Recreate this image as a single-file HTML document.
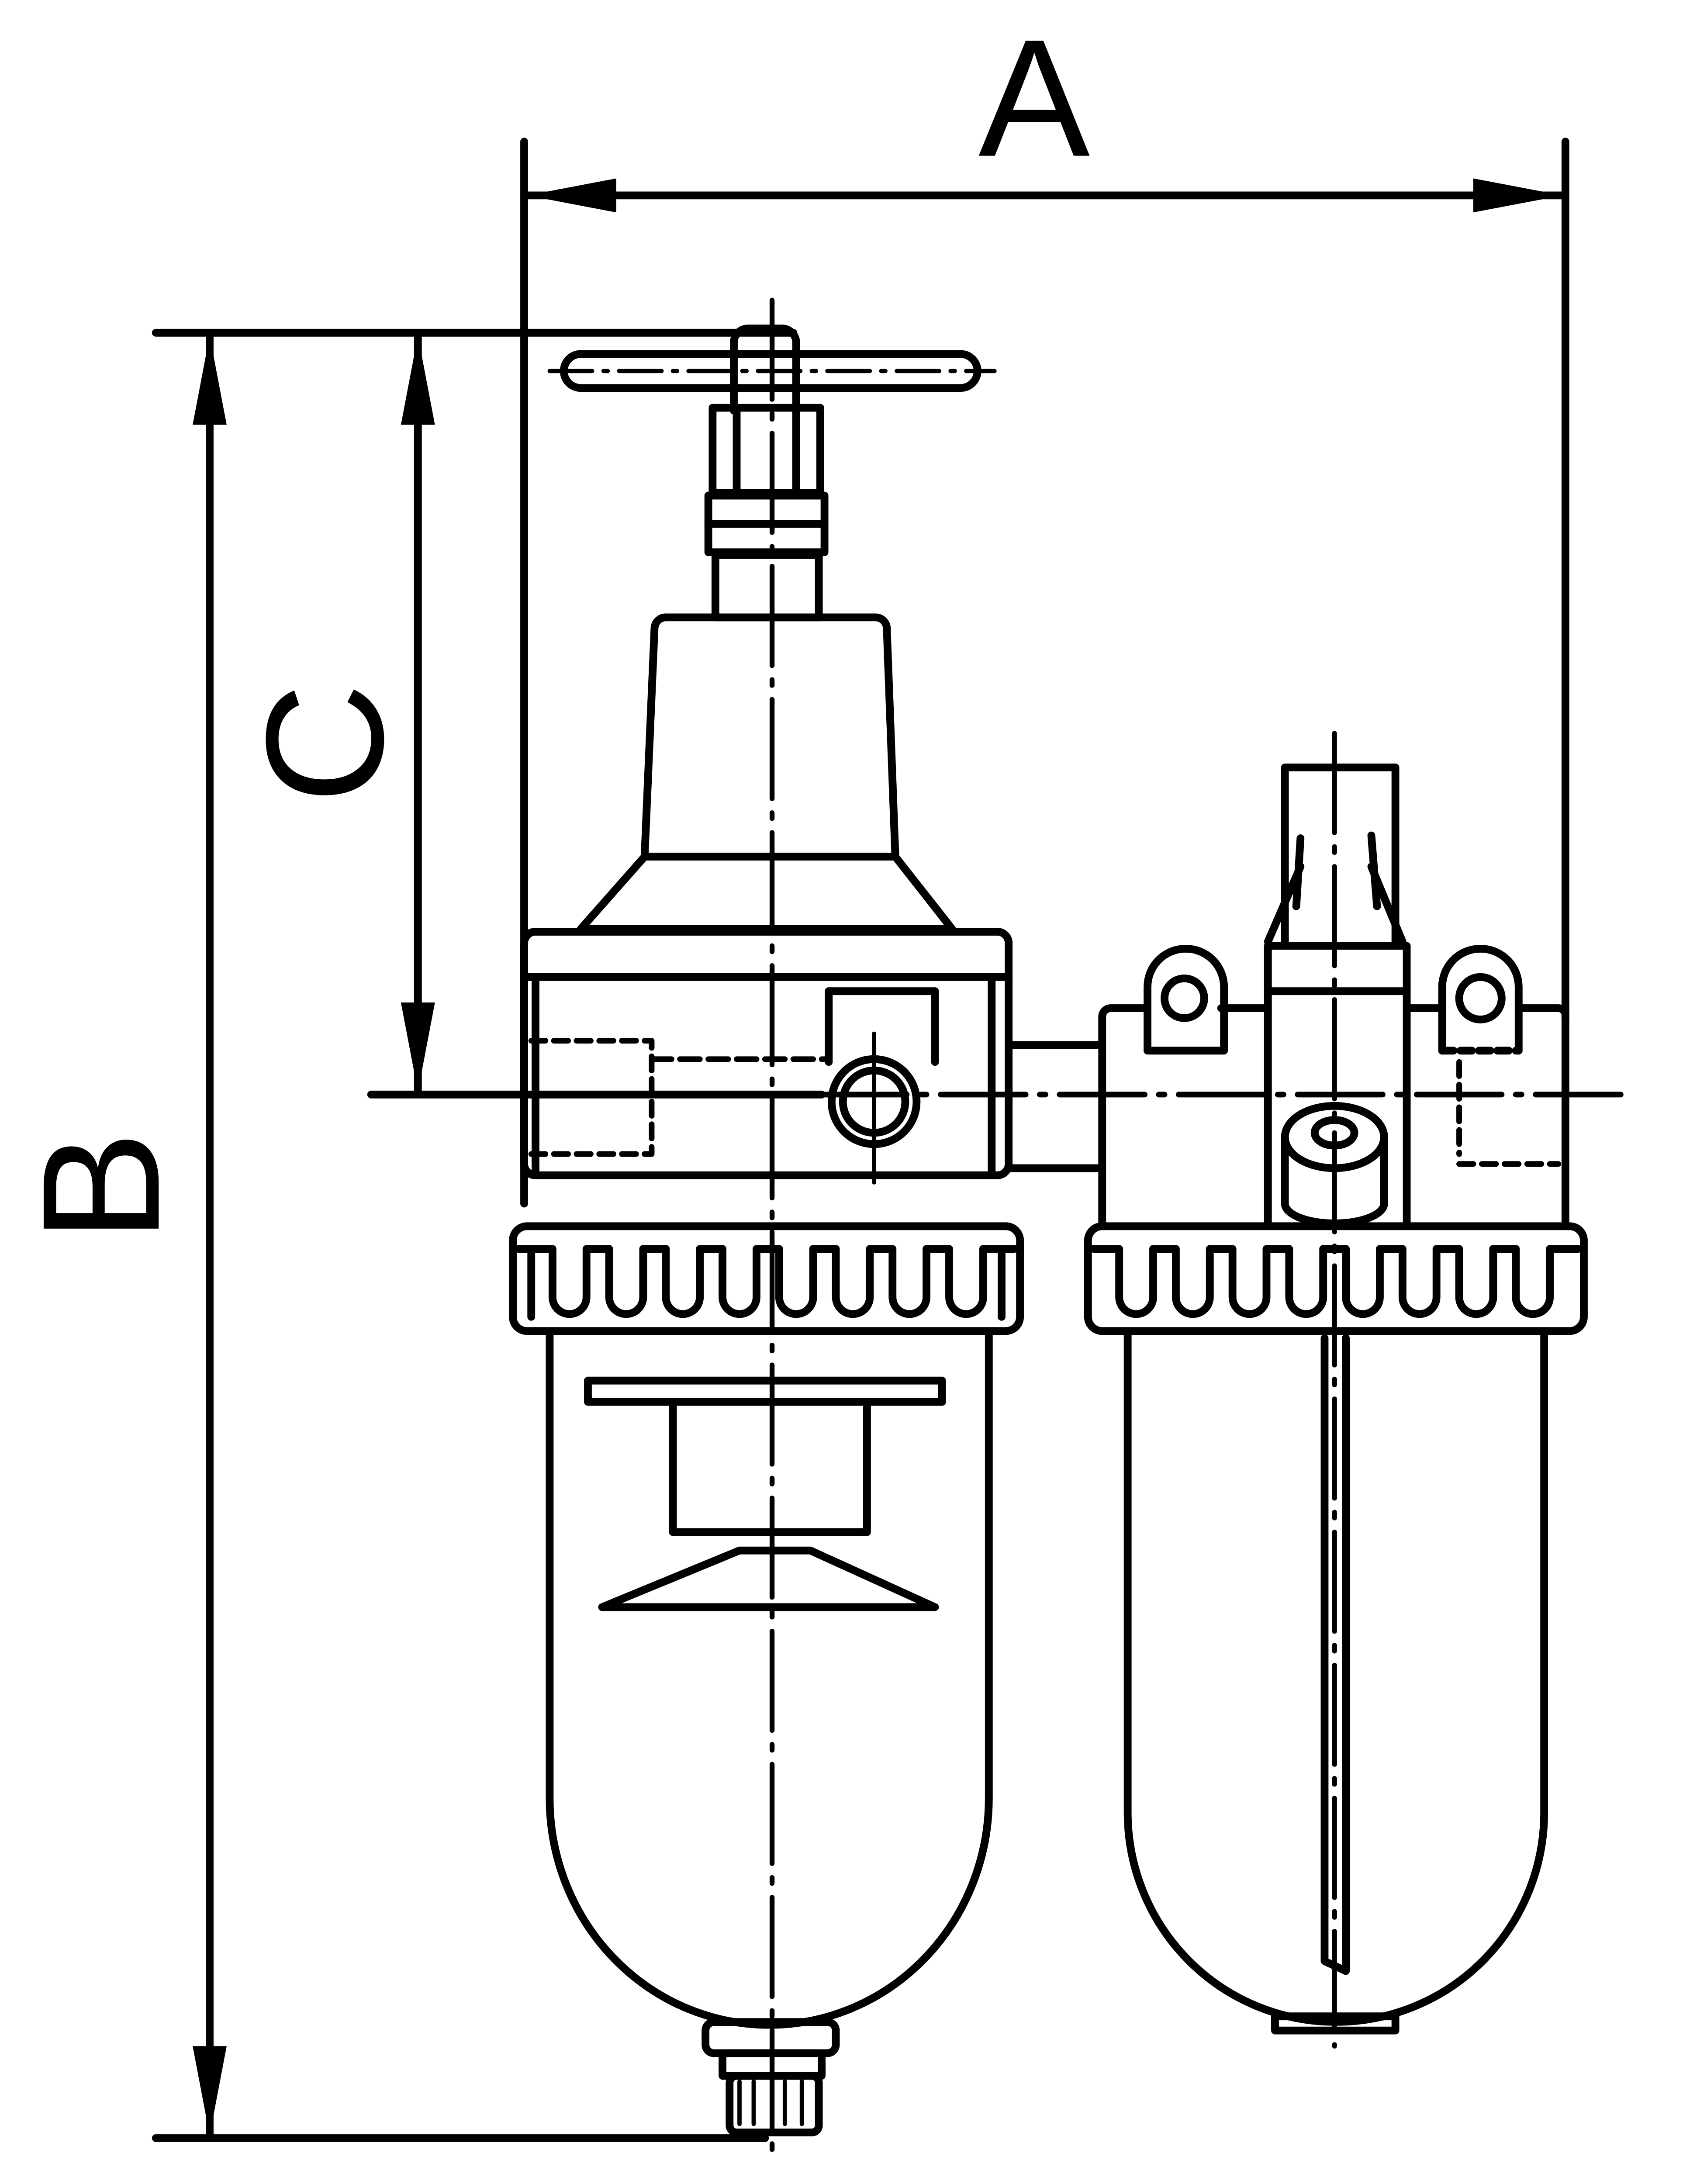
<!DOCTYPE html>
<html><head><meta charset="utf-8"><style>
html,body{margin:0;padding:0;background:#fff;width:3853px;height:5083px;overflow:hidden;position:relative}
svg{display:block;position:absolute;left:0;top:0}
</style></head><body>
<svg width="3853" height="5083" viewBox="0 0 1188 1568" preserveAspectRatio="none" xmlns="http://www.w3.org/2000/svg">
<rect width="1188" height="1568" fill="#fff"/>
<g fill="none" stroke="#000" stroke-width="5.5" stroke-linejoin="round" stroke-linecap="round">
<line x1="370" y1="100" x2="370" y2="850"/>
<line x1="1105" y1="100" x2="1105" y2="720"/>
<line x1="372" y1="138" x2="1103" y2="138"/>
<line x1="110" y1="235" x2="560" y2="235"/>
<line x1="110" y1="1510" x2="540" y2="1510"/>
<line x1="148" y1="237" x2="148" y2="1508"/>
<line x1="295" y1="237" x2="295" y2="771"/>
<line x1="262" y1="773" x2="580" y2="773"/>
<line x1="580" y1="773" x2="1145" y2="773" stroke-dasharray="60 10 4 10" stroke-width="4"/>
<line x1="545" y1="212" x2="545" y2="1525" stroke-dasharray="70 10 4 10" stroke-width="3.5"/>
<line x1="942" y1="518" x2="942" y2="1445" stroke-dasharray="70 10 4 10" stroke-width="3.5"/>

<path d="M410,250 H678 a12,12 0 0 1 0,24 H410 a12,12 0 0 1 0,-24 Z"/>
<line x1="388" y1="262" x2="702" y2="262" stroke-width="3" stroke-dasharray="30 8 3 8"/>
<path d="M518,290 V242 a10,10 0 0 1 10,-10 H552 a10,10 0 0 1 10,10 V290"/>
<rect x="503" y="288" width="76" height="60"/>
<line x1="520" y1="290" x2="520" y2="346"/>
<line x1="562" y1="290" x2="562" y2="346"/>
<path d="M500,350 H582 V390 H500 Z"/>
<line x1="500" y1="370" x2="582" y2="370"/>
<rect x="505" y="392" width="73" height="44"/>
<path d="M470,436 H618 a8,8 0 0 1 8,8 L632,605 H455 L462,444 a8,8 0 0 1 8,-8 Z"/>
<path d="M455,605 L410,656 H672 L632,605"/>
<rect x="370" y="658" width="342" height="172" rx="8"/>
<line x1="370" y1="690" x2="712" y2="690"/>
<line x1="378" y1="690" x2="378" y2="828"/>
<line x1="700" y1="690" x2="700" y2="828"/>
<path d="M375,735 H460 V815 H375" stroke-dasharray="10 6" stroke-width="4"/>
<line x1="460" y1="748" x2="585" y2="748" stroke-width="4" stroke-dasharray="14 6"/>
<path d="M585,700 H660 V750"/>
<line x1="585" y1="700" x2="585" y2="750"/>
<circle cx="617" cy="778" r="30"/>
<circle cx="617" cy="778" r="22"/>
<line x1="617" y1="730" x2="617" y2="835" stroke-width="3"/>
<path d="M712,738 H778 M712,825 H778"/>
<rect x="362" y="866" width="358" height="74" rx="10"/>
<path d="M366,882 H390 V916 a12,12 0 0 0 24,0 V882 H430 V916 a12,12 0 0 0 24,0 V882 H470 V916 a12,12 0 0 0 24,0 V882 H510 V916 a12,12 0 0 0 24,0 V882 H550 V916 a12,12 0 0 0 24,0 V882 H590 V916 a12,12 0 0 0 24,0 V882 H630 V916 a12,12 0 0 0 24,0 V882 H670 V916 a12,12 0 0 0 24,0 V882 H716"/>
<line x1="375" y1="885" x2="375" y2="930"/>
<line x1="707" y1="885" x2="707" y2="930"/>
<path d="M388,940 V1270 A155,160 0 0 0 698,1270 V940"/>
<rect x="415" y="975" width="250" height="15"/>
<rect x="475" y="990" width="137" height="92"/>
<path d="M522,1095 H572 L660,1135 H425 Z"/>
<rect x="498" y="1428" width="92" height="22" rx="6"/>
<rect x="510" y="1450" width="70" height="16"/>
<rect x="515" y="1466" width="63" height="40" rx="5"/>
<path d="M522,1470 V1500 M532,1470 V1500 M554,1470 V1500 M566,1470 V1500" stroke-width="3"/>

<path d="M907,542 H985 V665 M907,542 V665"/>
<path d="M918,612 L895,665 M968,612 L990,665"/>
<path d="M918,592 L915,640 M968,590 L972,640"/>
<path d="M895,668 H993 V865 M895,668 V865"/>
<line x1="895" y1="700" x2="993" y2="700"/>
<path d="M778,865 V718 a6,6 0 0 1 6,-6 H808 M862,712 H895 M993,712 H1018 M1072,712 H1100 a5,5 0 0 1 5,5 V865"/>
<path d="M810,742 V697 a27,27 0 0 1 54,0 V742 Z"/>
<circle cx="836" cy="705" r="14"/>
<path d="M1018,742 V697 a27,27 0 0 1 54,0 V742"/>
<circle cx="1045" cy="705" r="15"/>
<line x1="1018" y1="742" x2="1072" y2="742" stroke-dasharray="8 5"/>
<path d="M1030,750 V815 M1030,822 H1100" stroke-dasharray="10 6" stroke-width="4"/>
<ellipse cx="942" cy="803" rx="35" ry="22"/>
<ellipse cx="942" cy="800" rx="14" ry="9"/>
<path d="M907,805 V850 a35,14 0 0 0 70,0 V805"/>
<rect x="768" y="866" width="350" height="74" rx="10"/>
<path d="M772,882 H790 V916 a12,12 0 0 0 24,0 V882 H830 V916 a12,12 0 0 0 24,0 V882 H870 V916 a12,12 0 0 0 24,0 V882 H910 V916 a12,12 0 0 0 24,0 V882 H950 V916 a12,12 0 0 0 24,0 V882 H990 V916 a12,12 0 0 0 24,0 V882 H1030 V916 a12,12 0 0 0 24,0 V882 H1070 V916 a12,12 0 0 0 24,0 V882 H1114"/>
<path d="M796,940 V1280 A147,148 0 0 0 1090,1280 V940"/>
<path d="M935,945 V1385 L950,1392 V945"/>
<rect x="900" y="1424" width="85" height="10"/>
</g>
<g fill="#000">
<polygon points="372,138 435,126 435,150"/>
<polygon points="1103,138 1040,126 1040,150"/>
<polygon points="148,237 136,300 160,300"/>
<polygon points="148,1508 136,1445 160,1445"/>
<polygon points="295,237 283,300 307,300"/>
<polygon points="295,771 283,708 307,708"/>
</g>
<g font-family="Liberation Sans, sans-serif" font-size="118" fill="#000" text-anchor="middle">
<text x="730" y="110">A</text>
<text x="0" y="0" transform="translate(112,838) rotate(-90)">B</text>
<text x="0" y="0" transform="translate(270,525) rotate(-90)">C</text>
</g>
</svg>
</body></html>
